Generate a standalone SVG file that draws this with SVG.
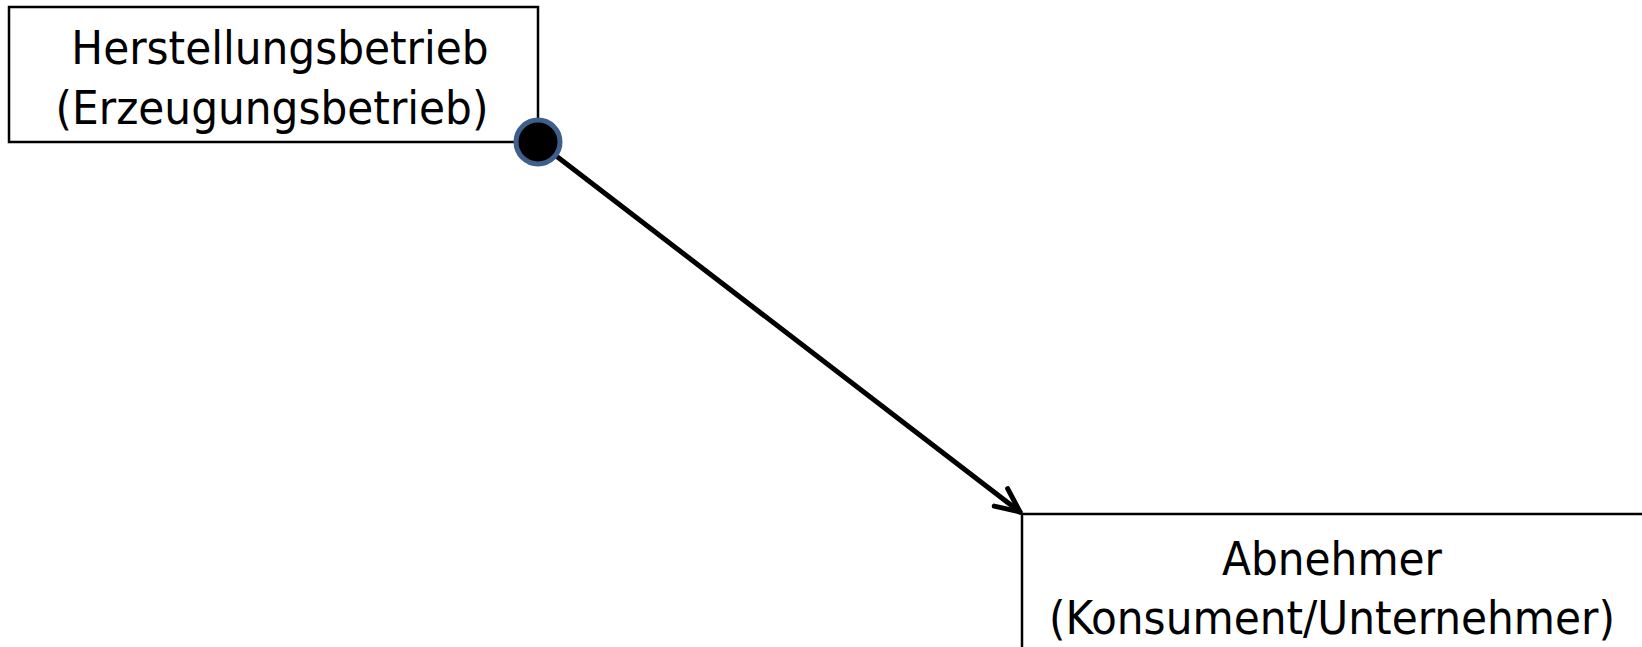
<svg xmlns="http://www.w3.org/2000/svg" width="1642" height="647" viewBox="0 0 1642 647">
<style>
.box{fill:#fff;stroke:#000;stroke-width:2.5}
.lbl{font-family:"DejaVu Sans Condensed","DejaVu Sans",sans-serif;font-stretch:condensed;font-size:47px;fill:#000;text-anchor:middle}
.conn{stroke:#000;stroke-width:5;fill:none;stroke-linecap:round}
</style>
<defs>
<marker id="arr" markerUnits="userSpaceOnUse" markerWidth="40" markerHeight="40" viewBox="-30 -20 40 40" refX="0" refY="0" orient="auto">
<path d="M-24,-11 L0,0 L-24,11" fill="none" stroke="#000" stroke-width="5" stroke-linecap="round" stroke-linejoin="round"/>
</marker>
</defs>
<g id="node-herstellung">
<rect class="box" x="9" y="7" width="529" height="135"/>
<text class="lbl" x="280" y="64">Herstellungsbetrieb</text>
<text class="lbl" x="272" y="124">(Erzeugungsbetrieb)</text>
</g>
<g id="node-abnehmer">
<rect class="box" x="1022" y="514" width="624" height="140"/>
<text class="lbl" x="1332" y="575">Abnehmer</text>
<text class="lbl" x="1332" y="634">(Konsument/Unternehmer)</text>
</g>
<g id="connectors">
<line class="conn" x1="538" y1="142" x2="1020" y2="512" marker-end="url(#arr)"/>
<circle cx="538" cy="142" r="22" fill="#000" stroke="#3E5F8C" stroke-width="5"/>
</g>
</svg>
